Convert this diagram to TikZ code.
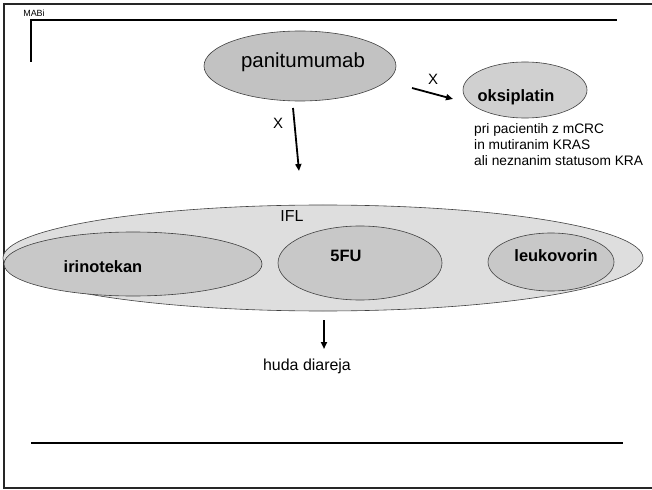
\documentclass[tikz,border=0pt]{standalone}
\usepackage{fontspec}
\setmainfont{Liberation Sans}
\usetikzlibrary{shapes.geometric,arrows.meta}
\definecolor{panfill}{HTML}{C2C2C2}
\definecolor{oksfill}{HTML}{D0D0D0}
\definecolor{iflfill}{HTML}{DEDEDE}
\definecolor{inFill}{HTML}{C8C8C8}
\begin{document}
\begin{tikzpicture}[x=1bp,y=-1bp,
  blob/.style={ellipse, draw=black!75, line width=0.6bp, inner sep=0pt},
  arr/.style={line width=1.8bp, -{Triangle[length=7bp,width=6bp]}},
  lbl/.style={inner sep=0pt, anchor=center},
  frameline/.style={line width=2bp, black!85},
  bold/.style={lbl, font=\fontsize{16.5}{19}\selectfont\bfseries}]
\useasboundingbox (0,0) rectangle (652,490);
% frame
\draw[frameline] (3,4) -- (652,4);
\draw[frameline] (4,3) -- (4,488);
\draw[frameline] (3,488) -- (652,488);
\draw[line width=1.2bp] (31,62) -- (31,20) -- (617,20);
\draw[line width=2bp] (31,443) -- (623,443);
\node[lbl, font=\fontsize{9}{10}\selectfont] (mabi) at (34,13) {MABi};
% panitumumab
\node[blob, fill=panfill, minimum width=192bp, minimum height=70bp] (pan) at (300,66) {};
\node[lbl, font=\fontsize{20.5}{24}\selectfont] (pant) at (303,62) {panitumumab};
% oksiplatin
\node[blob, fill=oksfill, minimum width=124bp, minimum height=56bp] (oks) at (525,90) {};
\node[bold] (okst) at (516,97) {oksiplatin};
\node[lbl, anchor=north west, align=left, font=\fontsize{13.8}{16}\selectfont] (note) at (474,123)
  {pri pacientih z mCRC\\in mutiranim KRAS\\ali neznanim statusom KRA};
% arrows from panitumumab
\coordinate (a1s) at (412,88);
\coordinate (a1e) at (453,99);
\draw[arr] (a1s) -- (a1e);
\node[lbl, font=\fontsize{15}{17}\selectfont] (x1) at (433,79) {X};
\coordinate (a2s) at (293,108);
\coordinate (a2e) at (299,171);
\draw[arr] (a2s) -- (a2e);
\node[lbl, font=\fontsize{15}{17}\selectfont] (x2) at (278,123) {X};
% IFL
\node[blob, fill=iflfill, minimum width=640bp, minimum height=106bp] (ifl) at (323,258) {};
\node[lbl, font=\fontsize{16}{18}\selectfont] (iflt) at (292,216) {IFL};
\node[blob, fill=inFill, minimum width=258bp, minimum height=64bp] (iri) at (133,264) {};
\node[bold] (irit) at (103,267) {irinotekan};
\node[blob, fill=inFill, minimum width=164bp, minimum height=74bp] (fu) at (360,263) {};
\node[bold] (fut) at (346,256) {5FU};
\node[blob, fill=inFill, minimum width=126bp, minimum height=58bp] (leu) at (551,262) {};
\node[bold] (leut) at (556,256) {leukovorin};
% diarrhoea
\coordinate (a3s) at (324,320);
\node[lbl, font=\fontsize{16}{18}\selectfont] (hud) at (307,366) {huda diareja};
\coordinate (a3e) at (324,349);
\draw[arr] (a3s) -- (a3e);
\end{tikzpicture}
\end{document}
